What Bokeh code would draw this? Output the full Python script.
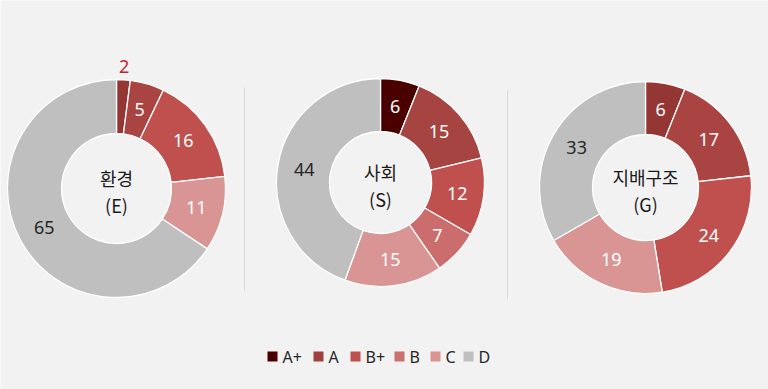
import math
from bokeh.plotting import figure
from bokeh.models import Range1d, ColumnDataSource
from bokeh.core.properties import value
from bokeh.embed import file_html
from bokeh.resources import INLINE

# ---- data ----
grades = ["A+", "A", "B+", "B", "C", "D"]
grade_colors = ["#4B0000", "#A0403E", "#C0504D", "#C97170", "#D99594", "#BFBFBF"]

env_values = [2, 5, 16, 11, 65]
soc_values = [6, 15, 12, 7, 15, 44]
gov_values = [6, 17, 24, 19, 33]

env_colors = ["#943634", "#A94442", "#C0504D", "#D99594", "#BFBFBF"]
soc_colors = ["#4B0000", "#A64442", "#C0504D", "#CB6D6D", "#D99594", "#BFBFBF"]
gov_colors = ["#943634", "#A94442", "#C0504D", "#D99594", "#BFBFBF"]

titles = [("환경", "(E)"), ("사회", "(S)"), ("지배구조", "(G)")]

# ---- layout (screen px, y from top) ----
W, H = 768, 389
donuts = [
    dict(vals=env_values, cols=env_colors, cx=116, cy=188, R=109, r=55, title=titles[0]),
    dict(vals=soc_values, cols=soc_colors, cx=380, cy=182, R=104, r=51, title=titles[1]),
    dict(vals=gov_values, cols=gov_colors, cx=645, cy=187, R=106, r=53, title=titles[2]),
]
legend_x = [267, 313, 350, 394, 430, 463]  # left edge of each legend swatch
legend_y = 356

p = figure(width=W, height=H, x_range=Range1d(0, W), y_range=Range1d(0, H),
           output_backend="svg", toolbar_location=None, min_border=0,
           x_axis_location=None, y_axis_location=None,
           background_fill_color="#F2F2F2", border_fill_color="#F2F2F2",
           outline_line_color=None)
p.grid.visible = False

NUM_FONT = "Noto Sans"
KR_FONT = "Noto Sans CJK KR"

for d in donuts:
    vals, cols = d["vals"], d["cols"]
    cx, cy = d["cx"], H - d["cy"]
    R, r = d["R"], d["r"]
    total = float(sum(vals))
    starts, ends, mids = [], [], []
    c = 0.0
    for v in vals:
        starts.append(math.pi / 2 - 2 * math.pi * c / total)
        mids.append(math.pi / 2 - 2 * math.pi * (c + v / 2.0) / total)
        c += v
        ends.append(math.pi / 2 - 2 * math.pi * c / total)
    src = ColumnDataSource(dict(x=[cx] * len(vals), y=[cy] * len(vals),
                                s=starts, e=ends, color=cols))
    p.annular_wedge(x="x", y="y", inner_radius=r, outer_radius=R,
                    start_angle="s", end_angle="e", direction="clock",
                    fill_color="color", line_color="white", line_width=1.3,
                    source=src)
    lx, ly, lt, lc = [], [], [], []
    for v, m, col in zip(vals, mids, cols):
        if v < 3:
            rad = R + 13
            tc = "#C0282D"
        else:
            rad = (R + r) / 2.0
            tc = "#262626" if col == "#BFBFBF" else "white"
        lx.append(cx + rad * math.cos(m))
        ly.append(cy + rad * math.sin(m))
        lt.append(str(v))
        lc.append(tc)
    p.text(x=lx, y=ly, text=lt, text_color=lc, text_align="center",
           text_baseline="middle", text_font=value(NUM_FONT),
           text_font_size="18px")
    t1, t2 = d["title"]
    p.text(x=[cx, cx], y=[cy + 11, cy - 16], text=[t1, t2], text_color="#1A1A1A",
           text_align="center", text_baseline="middle",
           text_font=value(KR_FONT), text_font_size="18px")

# separators
p.segment(x0=[244, 507], y0=[H - 87, H - 90], x1=[244, 507], y1=[H - 290, H - 298],
          line_color="#D9D9D9", line_width=1)

# legend (drawn manually so item widths follow their labels)
ly = H - legend_y
p.rect(x=[x + 5 for x in legend_x], y=[ly] * len(legend_x), width=10, height=10,
       fill_color=grade_colors, line_color=None)
p.text(x=[x + 15 for x in legend_x], y=[ly] * len(legend_x), text=grades,
       text_color="#262626", text_align="left", text_baseline="middle",
       text_font=value(NUM_FONT), text_font_size="16px")

open("out.html", "w").write(file_html(p, INLINE))
